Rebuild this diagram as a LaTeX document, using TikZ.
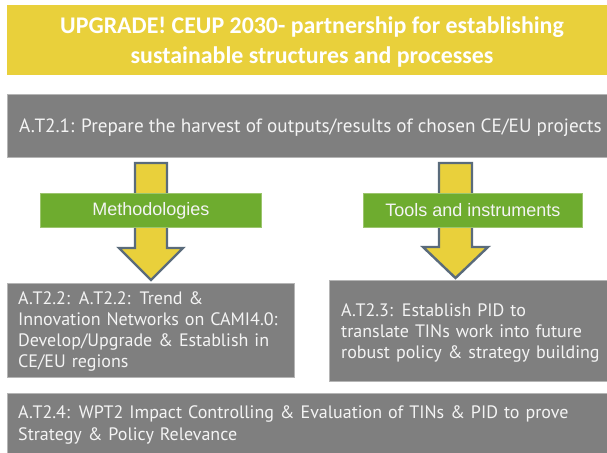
\documentclass[tikz,border=0pt]{standalone}
\usepackage{fontspec}
\setmainfont{PT Sans}
\newfontfamily\titlefont{Carlito}
\newfontfamily\arialfont{Liberation Sans}
\definecolor{banyellow}{HTML}{E9D03B}
\definecolor{boxgray}{HTML}{7F7F7F}
\definecolor{boxedge}{HTML}{B5B5B5}
\definecolor{labgreen}{HTML}{6EAC2F}
\definecolor{labedge}{HTML}{9CC56E}
\definecolor{arrowedge}{HTML}{5A6B7B}
\definecolor{txtwhite}{HTML}{F4F4F4}
\begin{document}
\begin{tikzpicture}[x=1pt,y=-1pt,
  banner/.style={fill=banyellow, draw=none, anchor=north west, inner sep=0pt},
  graybox/.style={fill=boxgray, draw=boxedge, line width=0.8pt, anchor=north west, inner sep=0pt},
  graytext/.style={anchor=base west, inner sep=0pt, align=left, text=txtwhite,
     font=\fontsize{18}{21}\selectfont},
  labelbox/.style={fill=labgreen, draw=labedge, line width=0.8pt, anchor=north west, inner sep=0pt,
     text=txtwhite, font=\arialfont\fontsize{18}{21}\selectfont},
  blockarrow/.style={fill=banyellow, draw=arrowedge, line width=2.4pt, line join=miter}
]
\useasboundingbox (0,0) rectangle (607,452);
\fill[white] (0,0) rectangle (607,452);

% banner
\node[banner, minimum width=600pt, minimum height=70pt] (title) at (7,5) {};
\node[inner sep=0pt, align=center, text=white,
      font=\titlefont\bfseries\fontsize{23.9}{30}\selectfont]
  (titletext) at (312,42) {UPGRADE! CEUP 2030- partnership for establishing\\sustainable structures and processes};

% gray boxes
\node[graybox, minimum width=600pt, minimum height=63pt] (b1) at (7,94) {};
\node[graytext, font=\fontsize{19.2}{21}\selectfont] (t1) at (19,132) {A.T2.1: Prepare the harvest of outputs/results of chosen CE/EU projects};

\node[graybox, minimum width=287pt, minimum height=94pt] (b2) at (7,283) {};
\node[graytext, text width=275pt] (t2) at (18,304) {A.T2.2: A.T2.2: Trend \&\\Innovation Networks on CAMI4.0:\\Develop/Upgrade \& Establish in\\CE/EU regions};

\node[graybox, minimum width=278pt, minimum height=101pt] (b3) at (329,280) {};
\node[graytext, text width=266pt] (t3) at (341,316) {A.T2.3: Establish PID to\\translate TINs work into future\\robust policy \& strategy building};

\node[graybox, minimum width=600pt, minimum height=62pt] (b4) at (7,393) {};
\node[graytext, text width=585pt, font=\fontsize{18}{22.5}\selectfont] (t4) at (18,418) {A.T2.4: WPT2 Impact Controlling \& Evaluation of TINs \& PID to prove\\Strategy \& Policy Relevance};

% block arrows
\draw[blockarrow] (135,163) -- (167,163) -- (167,248) -- (183,248) -- (151,280)
   -- (119,248) -- (135,248) -- cycle;
\draw[blockarrow] (439,163) -- (472,163) -- (472,247) -- (488,247) -- (455.5,278)
   -- (423,247) -- (439,247) -- cycle;

% green labels
\node[labelbox, minimum width=221pt, minimum height=34pt] (m) at (40,193) {Methodologies};
\node[labelbox, minimum width=219pt, minimum height=34pt] (ti) at (363,193) {Tools and instruments};
\end{tikzpicture}
\end{document}
